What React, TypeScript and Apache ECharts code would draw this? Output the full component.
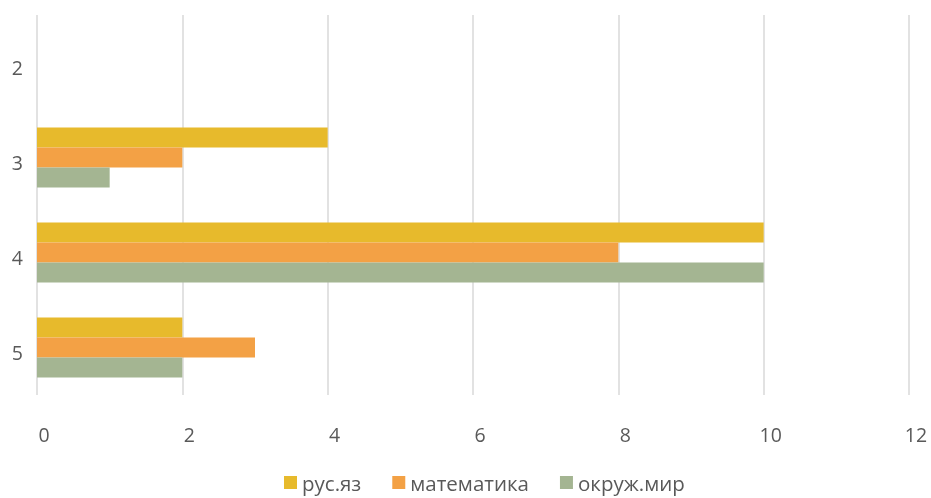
import React, { useEffect, useRef } from "react";
import * as echarts from "echarts";

const categories = ["2", "3", "4", "5"];
const rusYaz = [0, 4, 10, 2];
const matematika = [0, 2, 8, 3];
const okruzhMir = [0, 1, 10, 2];
const xTicks = { min: 0, max: 12, interval: 2 };

const FONT = "'Open Sans', 'Liberation Sans', sans-serif";
const TEXT = "#595959";

export default function App() {
  const ref = useRef<HTMLDivElement>(null);
  useEffect(() => {
    const chart = echarts.init(ref.current!, null, { renderer: "svg" });
    chart.setOption({
      animation: false,
      textStyle: { fontFamily: FONT },
      grid: { left: 37, right: 22, top: 15, bottom: 103, containLabel: false },
      legend: {
        bottom: 0,
        left: 279,
        icon: "rect",
        itemWidth: 13,
        itemHeight: 13,
        itemGap: 31,
        itemTextGap: 6,
        textStyle: { color: TEXT, fontSize: 20.5, fontFamily: FONT },
        data: ["рус.яз", "математика", "окруж.мир"],
      },
      xAxis: {
        type: "value",
        min: xTicks.min,
        max: xTicks.max,
        interval: xTicks.interval,
        axisLine: { show: false },
        axisTick: { show: false },
        axisLabel: { color: TEXT, fontSize: 19.5, margin: 29, padding: [0, 0, 0, 14], fontFamily: FONT },
        splitLine: { show: true, lineStyle: { color: "#D9D9D9", width: 1.5 } },
      },
      yAxis: {
        type: "category",
        data: categories,
        inverse: true,
        axisLine: { show: false },
        axisTick: { show: false },
        axisLabel: {
          color: TEXT,
          fontSize: 19.5,
          margin: 14,
          fontFamily: FONT,
          formatter: (v: string) => `{a|${v}}`,
          rich: { a: { color: TEXT, fontSize: 19.5, fontFamily: FONT, padding: [10, 0, 0, 0] } },
        },
        splitLine: { show: false },
      },
      series: [
        { name: "рус.яз", type: "bar", data: rusYaz, itemStyle: { color: "#E7BA2C" }, barCategoryGap: "37%", barGap: "0%" },
        { name: "математика", type: "bar", data: matematika, itemStyle: { color: "#F3A145" }, barCategoryGap: "37%", barGap: "0%" },
        { name: "окруж.мир", type: "bar", data: okruzhMir, itemStyle: { color: "#A4B592" }, barCategoryGap: "37%", barGap: "0%" },
      ],
    });
    return () => chart.dispose();
  }, []);
  return <div ref={ref} style={{ position: "fixed", left: 0, top: 0, width: 931, height: 498 }} />;
}
